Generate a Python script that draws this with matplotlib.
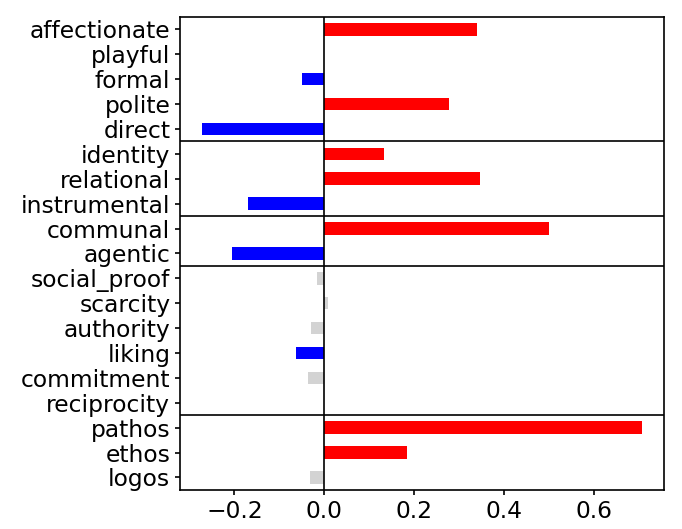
import numpy as np
import matplotlib.pyplot as plt

# ====== DATA ======
labels = ["affectionate", "playful", "formal", "polite", "direct",
          "identity", "relational", "instrumental",
          "communal", "agentic",
          "social_proof", "scarcity", "authority", "liking", "commitment", "reciprocity",
          "pathos", "ethos", "logos"]
values = [0.339, 0.0, -0.050, 0.277, -0.272,
          0.133, 0.346, -0.169,
          0.499, -0.205,
          -0.017, 0.007, -0.030, -0.063, -0.036, 0.0,
          0.707, 0.183, -0.033]
significant = [True, False, True, True, True,
               True, True, True,
               True, True,
               False, False, False, True, False, False,
               True, True, False]
group_sizes = [5, 3, 2, 6, 3]
# ==================

colors = []
for v, s in zip(values, significant):
    if not s:
        colors.append("lightgray")
    elif v > 0:
        colors.append("red")
    else:
        colors.append("blue")

fig, ax = plt.subplots(figsize=(6.82, 5.29), dpi=100)
fig.subplots_adjust(left=0.264, right=0.974, top=0.968, bottom=0.074)

y = np.arange(len(labels))
ax.barh(y, values, height=0.5, color=colors)
ax.axvline(0, color="black", linewidth=1.2)

# group separators
pos = 0
for n in group_sizes[:-1]:
    pos += n
    ax.axhline(pos - 0.5, color="black", linewidth=1.2)

ax.set_yticks(y)
ax.set_yticklabels(labels)
ax.set_ylim(len(labels) - 0.5, -0.5)
ax.tick_params(labelsize=16.8, width=1.2)
for sp in ax.spines.values():
    sp.set_linewidth(1.2)

plt.savefig("out.png", dpi=100)
